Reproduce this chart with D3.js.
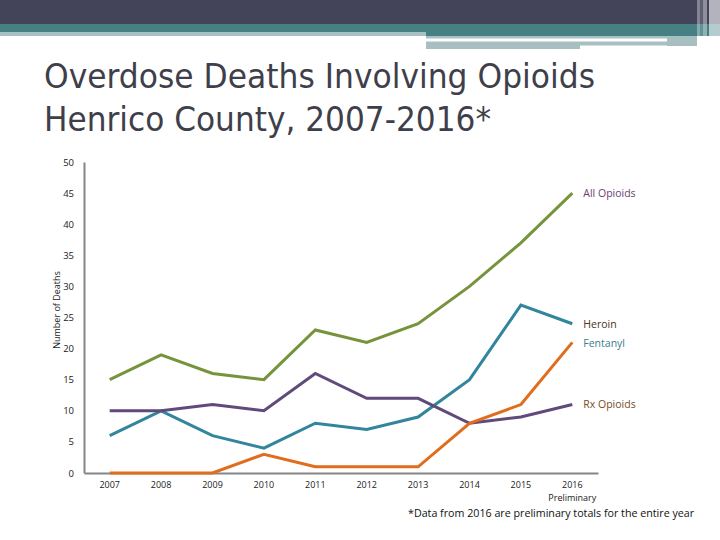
<!DOCTYPE html>
<html>
<head>
<meta charset="utf-8">
<script src="https://cdn.jsdelivr.net/npm/d3@7"></script>
<style>
  html, body { margin: 0; padding: 0; background: #fff; }
  svg { display: block; }
</style>
</head>
<body>
<svg id="chart" width="720" height="540"></svg>
<script>
const years = ['2007', '2008', '2009', '2010', '2011', '2012', '2013', '2014', '2015', '2016'];
const allOpioids = [15, 19, 16, 15, 23, 21, 24, 30, 37, 45];
const heroin = [6, 10, 6, 4, 8, 7, 9, 15, 27, 24];
const rxOpioids = [10, 10, 11, 10, 16, 12, 12, 8, 9, 11];
const fentanyl = [0, 0, 0, 3, 1, 1, 1, 8, 11, 21];
const yTicks = [0, 5, 10, 15, 20, 25, 30, 35, 40, 45, 50];

// drawn in this order, last on top
const series = [
  { name: 'Heroin', values: heroin, color: '#31859c', labelColor: '#4b3221' },
  { name: 'Rx Opioids', values: rxOpioids, color: '#604a7b', labelColor: '#7a4a25' },
  { name: 'Fentanyl', values: fentanyl, color: '#e06d1c', labelColor: '#3c7d8c' },
  { name: 'All Opioids', values: allOpioids, color: '#77933c', labelColor: '#6b3e6e' }
];

const svg = d3.select('#chart');

// slide header bands
const header = svg.append('g');
const bands = [
  [0, 0, 720, 24, '#43435a'],
  [0, 24, 720, 8, '#467f84'],
  [0, 32, 426, 4, '#a7c0c3'],
  [426, 32, 294, 4, '#467f84'],
  [426, 36, 241, 2.5, '#a7c0c3'],
  [426, 41.5, 154, 7.5, '#a7bfc1'],
  [580, 41.5, 117, 4, '#a7bfc1'],
  [667, 36, 30, 10, '#a7bfc1']
];
header.selectAll('rect.band')
  .data(bands)
  .join('rect')
  .attr('class', 'band')
  .attr('x', d => d[0]).attr('y', d => d[1])
  .attr('width', d => d[2]).attr('height', d => d[3])
  .attr('fill', d => d[4]);

// right edge stripes
const stripes = [
  [697, 3, 0.35], [700, 3, 0.15], [703, 4, 0.4], [709, 11, 0.6]
];
header.selectAll('rect.stripe')
  .data(stripes)
  .join('rect')
  .attr('class', 'stripe')
  .attr('x', d => d[0]).attr('y', 0)
  .attr('width', d => d[1]).attr('height', 48)
  .attr('fill', '#ffffff')
  .attr('opacity', d => d[2]);

// title
const titleLines = ['Overdose Deaths Involving Opioids', 'Henrico County, 2007-2016*'];
const titleWidths = [551, 447];
svg.append('g')
  .selectAll('text')
  .data(titleLines)
  .join('text')
  .attr('x', 44)
  .attr('y', (d, i) => 88 + i * 43)
  .attr('fill', '#3f3f4b')
  .style('font-family', '"DejaVu Sans Condensed", "DejaVu Sans", sans-serif')
  .style('font-size', '33px')
  .attr('textLength', (d, i) => titleWidths[i])
  .attr('lengthAdjust', 'spacingAndGlyphs')
  .text(d => d);

const margin = { left: 84, right: 122, top: 162, bottom: 67 };
const width = 720 - margin.left - margin.right;
const height = 540 - margin.top - margin.bottom;

const x = d3.scaleBand()
  .domain(years)
  .range([margin.left, margin.left + width]);

const y = d3.scaleLinear()
  .domain([0, 50])
  .range([margin.top + height, margin.top]);

const tickFont = '"Open Sans", "DejaVu Sans", sans-serif';

// y axis
const yAxis = svg.append('g')
  .attr('transform', `translate(${margin.left},0)`)
  .call(d3.axisLeft(y).tickValues(yTicks).tickSize(0).tickPadding(10));
yAxis.select('.domain').attr('stroke', '#868686').attr('stroke-width', 2);
yAxis.selectAll('text')
  .attr('fill', '#1a1a1a')
  .style('font-family', tickFont)
  .style('font-size', '9.5px');

// x axis
const xAxis = svg.append('g')
  .attr('transform', `translate(0,${margin.top + height})`)
  .call(d3.axisBottom(x).tickSize(0).tickPadding(9));
xAxis.select('.domain').attr('stroke', '#868686').attr('stroke-width', 2);
xAxis.selectAll('text')
  .attr('fill', '#1a1a1a')
  .style('font-family', tickFont)
  .style('font-size', '9px');
xAxis.selectAll('.tick')
  .filter(d => d === '2016')
  .append('text')
  .attr('y', 28)
  .attr('fill', '#1a1a1a')
  .attr('text-anchor', 'middle')
  .style('font-family', tickFont)
  .style('font-size', '9px')
  .text('Preliminary');

// y axis title
svg.append('text')
  .attr('transform', `translate(60,310) rotate(-90)`)
  .attr('text-anchor', 'middle')
  .attr('fill', '#1a1a1a')
  .style('font-family', tickFont)
  .style('font-size', '9px')
  .text('Number of Deaths');

// lines
const line = d3.line()
  .x((d, i) => x(years[i]) + x.bandwidth() / 2)
  .y(d => y(d));

svg.append('g')
  .selectAll('path')
  .data(series)
  .join('path')
  .attr('d', d => line(d.values))
  .attr('fill', 'none')
  .attr('stroke', d => d.color)
  .attr('stroke-width', 3)
  .attr('stroke-linejoin', 'miter');

// end labels
const lastX = x(years[years.length - 1]) + x.bandwidth() / 2;
svg.append('g')
  .selectAll('text')
  .data(series)
  .join('text')
  .attr('x', lastX + 11)
  .attr('y', d => y(d.values[d.values.length - 1]) + (d.name === 'Heroin' || d.name === 'Fentanyl' ? 1 : 0))
  .attr('dy', '0.35em')
  .attr('fill', d => d.labelColor)
  .style('font-family', tickFont)
  .style('font-size', '10.5px')
  .text(d => d.name);

// footnote
svg.append('text')
  .attr('x', 408)
  .attr('y', 517)
  .attr('fill', '#111')
  .style('font-family', tickFont)
  .style('font-size', '10.7px')
  .text('*Data from 2016 are preliminary totals for the entire year');
</script>
</body>
</html>
